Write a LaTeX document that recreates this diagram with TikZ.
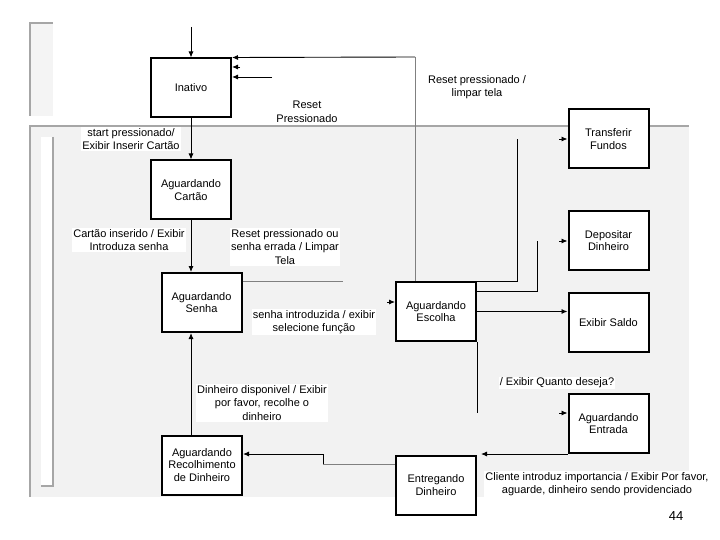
\documentclass[tikz,border=0pt]{standalone}
\usepackage{fontspec}
\setmainfont{Liberation Sans}
\usetikzlibrary{arrows.meta,calc}
\definecolor{decogray}{HTML}{A6A6A6}
\definecolor{panelgray}{HTML}{F2F2F2}
\definecolor{lightgray2}{HTML}{F4F4F4}
\begin{document}
\begin{tikzpicture}[x=1pt,y=-1pt,
  state/.style={draw,line width=2pt,minimum width=80pt,minimum height=59pt,align=center,
    font=\fontsize{11}{12.5}\selectfont,inner sep=1pt,fill=white},
  lbl/.style={fill=white,align=center,font=\fontsize{11}{13.5}\selectfont,inner sep=1.2pt},
  conn/.style={line width=0.9pt,-{Latex[length=6pt,width=5pt]}},
  plainline/.style={line width=0.9pt},
  grayline/.style={line width=0.9pt,draw=gray},
  deco/.style={draw=decogray,line width=2pt}]
\useasboundingbox (0,0) rectangle (720,540);
% background decoration
\fill[lightgray2] (30,23) rectangle (53,116);
\draw[deco] (30,116) -- (30,23) -- (53,23);
\fill[panelgray] (30,126) rectangle (689,497);
\draw[deco] (30,497) -- (30,126) -- (689,126);
\fill[white] (41,137) rectangle (53,486);
\draw[deco] (53,137) -- (53,486) -- (41,486);

% states
\node[state] (inativo) at (191,88) {Inativo};
\node[state] (cartao) at (191,190) {Aguardando\\Cartão};
\node[state] (senha) at (201.5,302.5) {Aguardando\\Senha};
\node[state] (escolha) at (436,311.5) {Aguardando\\Escolha};
\node[state] (transf) at (608.5,139) {Transferir\\Fundos};
\node[state] (depos) at (608.5,240.5) {Depositar\\Dinheiro};
\node[state] (saldo) at (608.5,322.5) {Exibir Saldo};
\node[state] (entrada) at (608.5,423.5) {Aguardando\\Entrada};
\node[state] (recol) at (202,465) {Aguardando\\Recolhimento\\de Dinheiro};
\node[state] (entreg) at (436,485) {Entregando\\Dinheiro};

% coordinates for free ends
\coordinate (s0) at (191,27);
\coordinate (rx) at (415,57);
\coordinate (st1) at (240,67);
\coordinate (st2) at (272,77);
\coordinate (sr) at (343,281);
\coordinate (e1) at (387,302);
\coordinate (t1) at (517,139);
\coordinate (t2) at (559,139);
\coordinate (d1) at (537,241);
\coordinate (d2) at (559,241);
\coordinate (q2) at (559,413);
\coordinate (en) at (481,454);
\coordinate (k0) at (323,464);
\coordinate (k1) at (323,454);

% connectors
\draw[conn] (s0) -- (inativo.north);
\draw[conn] (inativo.south) -- (cartao.north);
\draw[conn] (cartao.south) -- (cartao.south |- senha.north);
\draw[conn] (recol.north -| cartao.south) -- (senha.south -| cartao.south);
\draw[grayline] (escolha.north -| rx) -- (rx);
\draw[conn] (rx) -- (inativo.north east);
\draw[conn] (st1) -- (st1 -| inativo.east);
\draw[conn] (st2) -- (st2 -| inativo.east);
\draw[grayline] (sr -| senha.east) -- (sr);
\draw[conn] (e1) -- (e1 -| escolha.west);
\draw[plainline] (escolha.north east) -| (t1);
\draw[conn] (t2) -- (t2 -| transf.west);
\draw[plainline] ($(escolha.north east)+(0,10)$) -| (d1);
\draw[conn] (d2) -- (d2 -| depos.west);
\draw[conn] (escolha.east) -- (escolha.east -| saldo.west);
\draw[plainline] (escolha.south east) -- ++(0,71);
\draw[conn] (q2) -- (q2 -| entrada.west);
\draw[conn] (entrada.south west) -- (en);
\draw[grayline] (k0 -| entreg.west) -- (k0);
\draw[conn] (k0) -- (k1) -- (k1 -| recol.east);

% labels
\node[lbl] (l1) at (131,139) {start pressionado/\\Exibir Inserir Cartão};
\node[lbl] (l2) at (307,112) {Reset\\Pressionado};
\node[lbl] (l3) at (477,87) {Reset pressionado /\\limpar tela};
\node[lbl] (l4) at (129,240) {Cartão inserido / Exibir\\Introduza senha};
\node[lbl] (l5) at (285,247) {Reset pressionado ou\\senha errada / Limpar\\Tela};
\node[lbl] (l6) at (314,322) {senha introduzida / exibir\\selecione função};
\node[lbl] (l7) at (262,403) {Dinheiro disponivel / Exibir\\por favor, recolhe o\\dinheiro};
\node[lbl] (l8) at (557,383) {/ Exibir Quanto deseja?};
\node[lbl] (l9) at (597,484) {Cliente introduz importancia / Exibir Por favor,\\aguarde, dinheiro sendo providenciado};
\node[font=\fontsize{13}{15}\selectfont] (pg) at (676,516) {44};
\end{tikzpicture}
\end{document}
